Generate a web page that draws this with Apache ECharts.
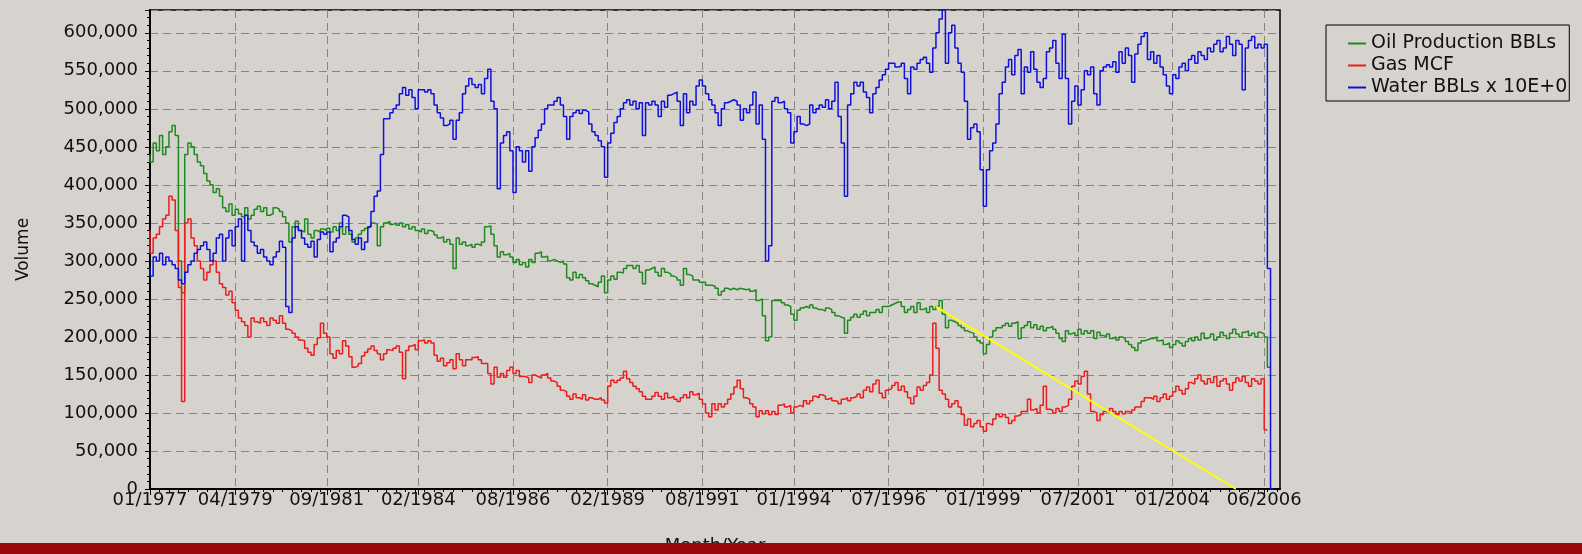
<!DOCTYPE html>
<html>
  <head>
    <meta charset="utf-8">
    <title>Production Volume</title>
    <script src="https://cdn.jsdelivr.net/npm/echarts@6/dist/echarts.min.js"></script>
    <style>
      html, body { margin: 0; padding: 0; background: #d6d3ce; }
      #main { width: 1582px; height: 554px; }
    </style>
  </head>
  <body>
    <div id="main"></div>
    <script type="text/javascript">
      // monthly volumes from 01/1977, in thousands
      var oil = [
        440, 430, 455, 445, 465, 440, 450, 470, 478, 465, 300, 258,
        440, 455, 450, 440, 430, 425, 415, 405, 400, 390, 395, 385,
        370, 365, 375, 360, 368, 362, 358, 370, 355, 360, 368, 372,
        365, 370, 360, 362, 370, 368, 365, 358, 350, 325, 345, 352,
        340, 338, 355, 335, 330, 340, 338, 342, 340, 343, 338, 345,
        340, 350, 335, 345, 335, 325, 330, 335, 340, 343, 345, 350,
        348, 320, 345, 350, 352, 348, 350, 347, 350, 345, 348, 342,
        345, 340, 338, 342, 336, 340, 338, 334, 330, 332, 325, 328,
        322, 290, 330, 322, 325, 320, 322, 318, 322, 320, 325, 345,
        346, 335, 320, 305, 312, 308, 310, 305, 298, 302, 295, 298,
        292, 302, 298, 310, 312, 305, 306, 300, 302, 300, 298, 300,
        296, 278, 275, 285, 278, 282, 278, 274, 270, 268, 266, 272,
        280, 258, 275, 280, 276, 285, 284, 290, 294, 294, 290, 294,
        285, 270, 288, 290, 292, 285, 280, 290, 285, 283, 280, 278,
        275, 268, 290, 282, 280, 275, 275, 272, 272, 268, 268, 267,
        264, 255, 260, 264, 262, 264, 262, 264, 263, 262, 263, 260,
        262, 248, 250, 228, 195, 200, 248, 248, 248, 245, 242, 240,
        230, 222, 235, 238, 240, 238, 242, 238, 236, 236, 234, 238,
        236, 232, 228, 226, 225, 205, 222, 226, 230, 226, 230, 234,
        228, 232, 232, 236, 232, 240, 240, 242, 244, 246, 246, 240,
        232, 236, 240, 232, 245, 236, 238, 232, 240, 236, 240, 248,
        230, 212, 222, 220, 218, 215, 212, 208, 206, 205, 200, 195,
        192, 178, 190, 200, 208, 212, 212, 215, 218, 214, 218, 220,
        198, 212, 215, 220, 212, 216, 210, 214, 208, 212, 214, 210,
        205, 198, 194, 208, 204, 206, 202, 210, 204, 208, 205, 208,
        198, 206, 202, 200, 204, 198, 200, 196, 200, 198, 194, 190,
        186, 182, 192, 195, 196, 198, 198, 200, 195, 196, 190, 192,
        186, 190, 195, 192, 188, 194, 198, 195, 200, 196, 205, 198,
        200, 204, 196, 200, 206, 202, 198, 205, 210, 204, 200, 206,
        208, 202, 205, 200, 206, 204, 200, 160
      ];
      var gas = [
        340, 310, 330, 335, 345, 355, 360, 385, 380, 340, 265, 115,
        350, 355, 330, 320, 300, 290, 275, 285, 295, 300, 285, 270,
        265, 255, 260, 245, 235, 225, 220, 215, 200, 225, 220, 218,
        225, 220, 215, 225, 222, 218, 228, 218, 210, 208, 205, 200,
        196, 195, 185, 180, 176, 190, 199, 218, 205, 200, 178, 172,
        182, 178, 195, 188, 174, 160, 162, 165, 175, 180, 184, 188,
        182, 178, 170, 178, 183, 182, 185, 188, 180, 145, 182, 188,
        190, 183, 195, 196, 192, 195, 192, 176, 168, 172, 162, 166,
        170, 158, 178, 170, 162, 170, 170, 173, 174, 170, 165, 165,
        152, 138, 160, 147, 152, 147, 156, 160, 152, 156, 148, 148,
        146, 140, 150, 148, 146, 150, 152, 146, 142, 140, 135, 130,
        128, 122, 118, 125, 120, 118, 124, 117, 120, 118, 118, 120,
        117, 113, 135, 143, 140, 143, 146, 155, 145, 140, 135, 132,
        128, 122, 118, 118, 122, 127, 122, 118, 126, 120, 122, 118,
        115, 120, 124, 120, 128, 124, 126, 118, 112, 100, 95, 112,
        104, 112, 108, 112, 118, 125, 134, 143, 132, 120, 118, 112,
        108, 95, 103, 99, 103, 98, 102, 98, 110, 112, 108, 110,
        100, 108, 110, 108, 116, 112, 116, 122, 120, 124, 122, 118,
        120, 116, 115, 112, 118, 120, 116, 120, 122, 125, 120, 130,
        134, 128, 138, 143, 126, 120, 130, 132, 136, 140, 130, 135,
        128, 120, 112, 122, 134, 130, 136, 140, 150, 218, 185, 130,
        125, 118, 108, 112, 116, 108, 98, 84, 92, 82, 86, 90,
        82, 76, 86, 84, 92, 98, 95, 98, 94, 86, 90, 96,
        98, 102, 102, 118, 104, 106, 100, 110, 135, 105, 104, 100,
        106, 102, 108, 110, 118, 135, 142, 138, 148, 155, 125, 102,
        100, 90, 98, 102, 100, 106, 102, 98, 102, 99, 102, 100,
        104, 108, 108, 115, 120, 120, 118, 122, 115, 120, 125, 118,
        122, 128, 135, 130, 125, 132, 140, 138, 145, 150, 142, 138,
        145, 140, 148, 135, 142, 145, 138, 130, 140, 146, 142, 148,
        140, 135, 145, 142, 138, 145, 78
      ];
      var water = [
        290, 280, 305, 300, 310, 295, 305, 300, 295, 290, 275, 270,
        285, 295, 300, 310, 315, 320, 325, 315, 300, 310, 330, 335,
        300, 330, 340, 320, 345, 355, 300, 360, 340, 325, 320, 310,
        315, 305, 300, 295, 305, 312, 326, 318, 240, 232, 330, 345,
        340, 330, 322, 318, 326, 305, 328, 338, 335, 338, 312, 325,
        330, 345, 360, 358, 340, 328, 322, 330, 315, 325, 345, 365,
        385, 392, 440, 487, 487, 495, 500, 505, 520, 528, 518, 525,
        515, 500, 525, 525, 522, 525, 520, 505, 495, 488, 478, 480,
        485, 460, 485, 495, 520, 530, 540, 532, 528, 532, 520, 540,
        552, 510, 500, 395, 455, 465, 470, 445, 390, 450, 445, 430,
        445, 418, 450, 462, 472, 480, 500, 505, 505, 510, 515, 505,
        490, 460, 490, 495, 498, 494, 498, 496, 480, 470, 465, 458,
        450, 410, 455, 468, 482, 490, 500, 508, 512, 505, 510, 500,
        508, 465, 508, 505, 510, 505, 490, 510, 502, 518, 520, 522,
        510, 478, 520, 495, 510, 505, 530, 538, 530, 520, 512, 505,
        495, 478, 500, 508, 510, 512, 510, 505, 485, 500, 495, 505,
        522, 480, 505, 460, 300, 320, 510, 515, 508, 510, 500, 495,
        455, 470, 490, 480, 478, 480, 505, 495, 500, 505, 502, 512,
        500, 510, 535, 490, 455, 385, 505, 520, 535, 530, 535, 522,
        515, 495, 520, 528, 538, 545, 552, 560, 560, 555, 556, 560,
        540, 520, 555, 552, 560, 565, 568, 560, 548, 580, 600, 618,
        630, 560, 600, 610, 580, 560, 548, 510, 460, 475, 480, 470,
        420, 372, 420, 445, 455, 480, 520, 535, 555, 565, 545, 570,
        578, 520, 555, 548, 575, 552, 535, 528, 540, 575, 580, 590,
        560, 540, 598, 540, 480, 510, 530, 505, 525, 550, 545, 555,
        520, 505, 550, 555, 558, 555, 562, 548, 575, 560, 580, 570,
        535, 572, 585, 595, 600, 565, 575, 560, 570, 555, 545, 530,
        520, 545, 540, 555, 560, 550, 565, 570, 560, 575, 570, 565,
        580, 575, 585, 590, 575, 580, 595, 585, 570, 590, 585, 525,
        580, 590, 595, 580, 585, 580, 585, 290, 0
      ];
      var tickLabels = ['01/1977', '04/1979', '09/1981', '02/1984', '08/1986', '02/1989', '08/1991',
                        '01/1994', '07/1996', '01/1999', '07/2001', '01/2004', '06/2006'];
      var trendLine = [['10/1997', 240], ['09/2005', 0]];
      var seriesNames = ['Oil Production BBLs', 'Gas MCF', 'Water BBLs x 10E+0'];

      // month categories 01/1977 .. 11/2006
      var months = [];
      for (var y = 1977; y <= 2006; y++) {
        for (var m = 1; m <= 12; m++) {
          months.push((m < 10 ? '0' + m : '' + m) + '/' + y);
        }
      }
      months = months.slice(0, 359);

      function isTick(i, v) {
        return tickLabels.indexOf(v) >= 0;
      }

      var font = 'DejaVu Sans';
      var myChart = echarts.init(document.getElementById('main'));
      var option = {
        animation: false,
        backgroundColor: '#d6d3ce',
        grid: {
          left: 150, right: 302, top: 10, bottom: 65,
          outerBoundsMode: 'none',
          show: true, borderColor: '#000', borderWidth: 1.5
        },
        legend: {
          data: seriesNames,
          orient: 'vertical',
          left: 1326, top: 25,
          itemWidth: 18, itemHeight: 2, itemGap: 3,
          icon: 'rect',
          borderColor: '#000', borderWidth: 1,
          padding: [9, 2, 4, 22],
          textStyle: { fontFamily: font, fontSize: 19, color: '#111' }
        },
        xAxis: [
          {
            type: 'category',
            data: months,
            boundaryGap: false,
            name: 'Month/Year',
            nameLocation: 'middle',
            nameGap: 48,
            nameTextStyle: { fontFamily: font, fontSize: 18, color: '#111' },
            axisLine: { lineStyle: { color: '#000', width: 2 } },
            axisTick: { interval: isTick, length: 6, lineStyle: { color: '#000' } },
            axisLabel: { interval: isTick, margin: 2, fontFamily: font, fontSize: 18, color: '#111' },
            splitLine: { show: true, interval: isTick, lineStyle: { color: '#858585', type: [8, 5] } }
          },
          {
            type: 'category',
            data: months,
            boundaryGap: false,
            position: 'bottom',
            axisLine: { show: false },
            axisTick: { interval: 2, length: 3, lineStyle: { color: '#000' } },
            axisLabel: { show: false },
            splitLine: { show: false }
          }
        ],
        yAxis: {
          type: 'value',
          min: 0, max: 630, interval: 50,
          name: 'Volume',
          nameLocation: 'middle',
          nameGap: 118,
          nameTextStyle: { fontFamily: font, fontSize: 17, color: '#111' },
          axisLine: { show: true, lineStyle: { color: '#000', width: 2 } },
          axisTick: { show: true, length: 5, lineStyle: { color: '#000' } },
          minorTick: { show: true, splitNumber: 5, length: 3, lineStyle: { color: '#000' } },
          axisLabel: {
            showMaxLabel: false, margin: 12, fontFamily: font, fontSize: 18, color: '#111',
            formatter: function (v) { return (v * 1000).toLocaleString('en-US'); }
          },
          splitLine: { lineStyle: { color: '#858585', type: [8, 5] } }
        },
        series: [
          {
            name: seriesNames[0], type: 'line', data: oil, step: 'start',
            symbol: 'none', color: '#1f8a1f', lineStyle: { width: 1.5 }
          },
          {
            name: seriesNames[1], type: 'line', data: gas, step: 'start',
            symbol: 'none', color: '#ee1c1c', lineStyle: { width: 1.5 }
          },
          {
            name: seriesNames[2], type: 'line', data: water, step: 'start',
            symbol: 'none', color: '#1010dd', lineStyle: { width: 1.5 }
          },
          {
            name: 'trend', type: 'line', data: trendLine,
            symbol: 'none', color: '#ffff00', lineStyle: { width: 2 }
          }
        ],
        graphic: [
          {
            type: 'rect', left: 0, top: 543, z: 100,
            shape: { width: 1582, height: 11 },
            style: { fill: '#9a0a0c' }
          }
        ]
      };
      myChart.setOption(option);
    </script>
  </body>
</html>
